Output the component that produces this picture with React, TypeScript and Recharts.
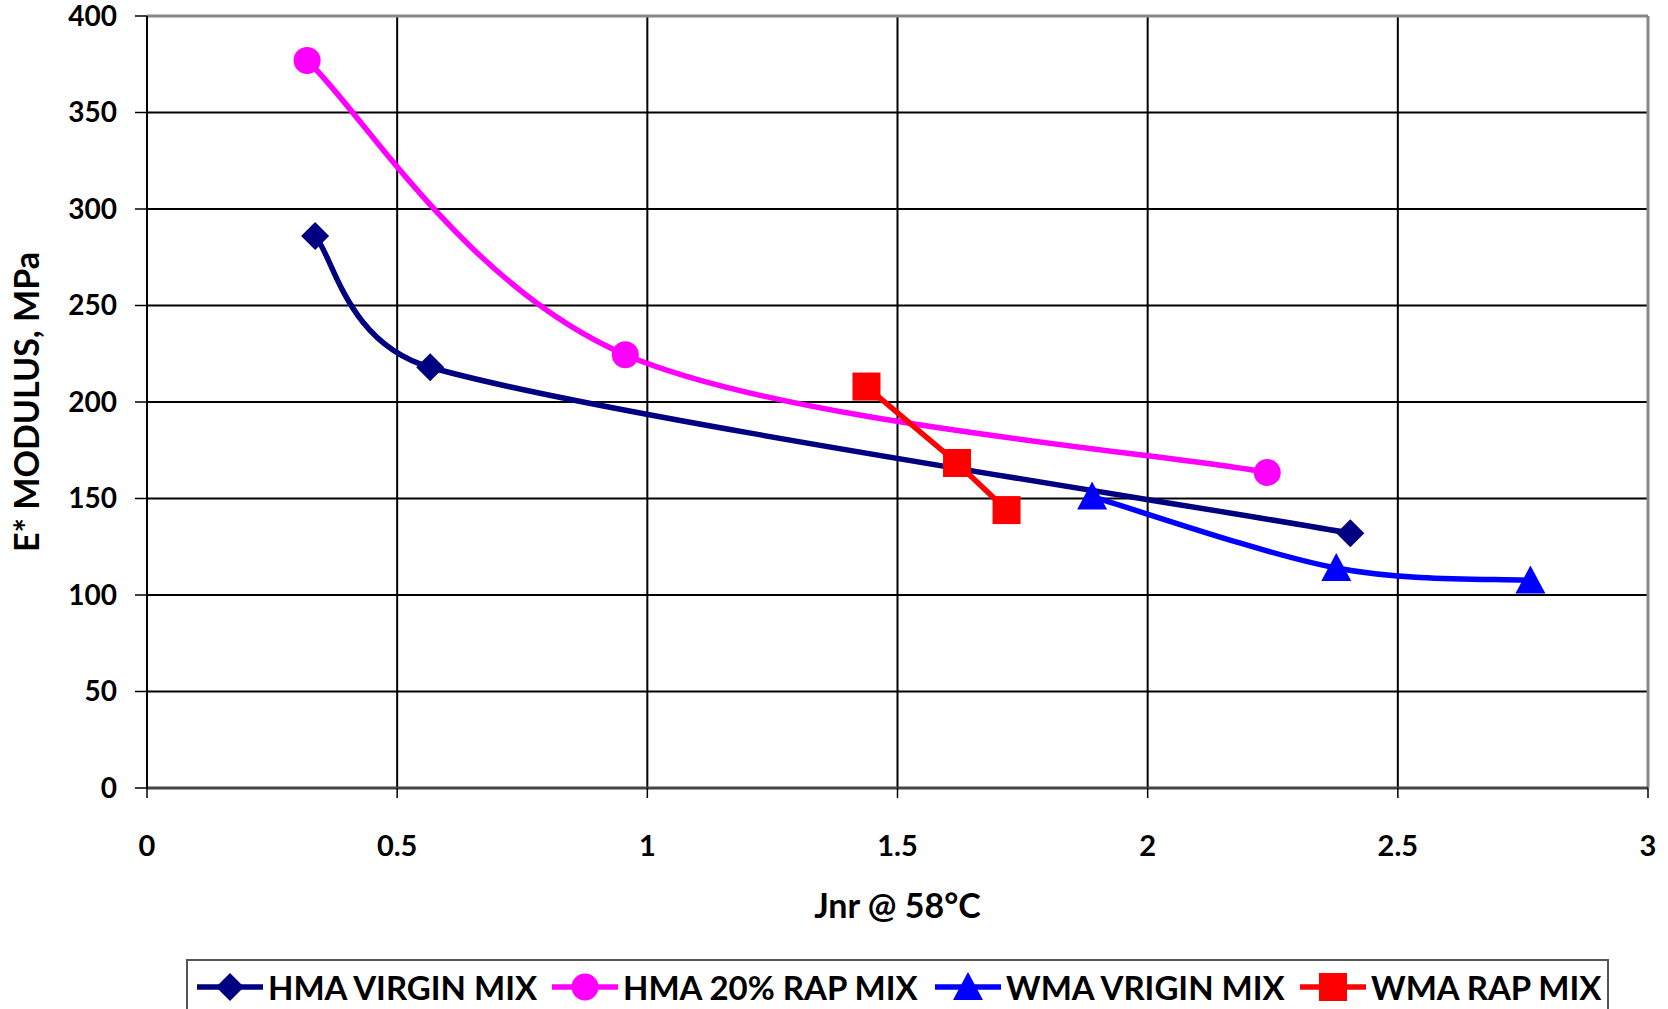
import React from 'react';
import { LineChart, Line, XAxis, YAxis, CartesianGrid, Legend, ReferenceLine } from 'recharts';

const seriesNames = ['HMA VIRGIN MIX', 'HMA 20% RAP MIX', 'WMA VRIGIN MIX', 'WMA RAP MIX'];
const seriesColors = ['#000080', '#FF00FF', '#0000FF', '#FF0000'];
const seriesShapes = ['diamond', 'circle', 'triangle', 'square'];

const hmaVirginX = [0.336, 0.566, 2.405];
const hmaVirginY = [286, 218, 132];
const hmaRapX = [0.32, 0.956, 2.239];
const hmaRapY = [377, 224.5, 163.5];
const wmaVirginX = [1.889, 2.377, 2.765];
const wmaVirginY = [151, 114, 107.5];
const wmaRapX = [1.438, 1.619, 1.718];
const wmaRapY = [208, 168.4, 144];

const xTicks = [0, 0.5, 1, 1.5, 2, 2.5, 3];
const yTicks = [0, 50, 100, 150, 200, 250, 300, 350, 400];
const xTitle = 'Jnr @ 58°C';
const yTitle = 'E* MODULUS, MPa';

const toPoints = (xs: number[], ys: number[]) => xs.map((x, i) => ({ x, y: ys[i] }));
const seriesData = [
  toPoints(hmaVirginX, hmaVirginY),
  toPoints(hmaRapX, hmaRapY),
  toPoints(wmaVirginX, wmaVirginY),
  toPoints(wmaRapX, wmaRapY),
];

// Spreadsheet-style smoothed line: Catmull-Rom tangents (1/6), capped at half of the adjacent chord.
function smoothCurve(context: any) {
  let pts: [number, number][] = [];
  return {
    areaStart() {},
    areaEnd() {},
    lineStart() {
      pts = [];
    },
    point(x: number, y: number) {
      pts.push([+x, +y]);
    },
    lineEnd() {
      const n = pts.length;
      if (!n) return;
      context.moveTo(pts[0][0], pts[0][1]);
      if (n === 1) return;
      const tangent = (i: number) => {
        const a = pts[Math.max(i - 1, 0)];
        const b = pts[Math.min(i + 1, n - 1)];
        return [(b[0] - a[0]) / 6, (b[1] - a[1]) / 6];
      };
      const cap = (t: number[], chord: number) => {
        const len = Math.hypot(t[0], t[1]);
        const lim = chord / 2;
        if (len > lim && len > 0) return [(t[0] * lim) / len, (t[1] * lim) / len];
        return t;
      };
      for (let i = 0; i < n - 1; i++) {
        const p1 = pts[i];
        const p2 = pts[i + 1];
        const chord = Math.hypot(p2[0] - p1[0], p2[1] - p1[1]);
        const t1 = cap(tangent(i), chord);
        const t2 = cap(tangent(i + 1), chord);
        context.bezierCurveTo(p1[0] + t1[0], p1[1] + t1[1], p2[0] - t2[0], p2[1] - t2[1], p2[0], p2[1]);
      }
    },
  };
}

const seriesCurve: any[] = [smoothCurve, smoothCurve, smoothCurve, 'linear'];

const FONT = 'Lato, "Open Sans", sans-serif';

function Marker({ shape, cx, cy, color }: { shape: string; cx: number; cy: number; color: string }) {
  if (shape === 'diamond') {
    return <polygon points={`${cx},${cy - 14} ${cx + 14},${cy} ${cx},${cy + 14} ${cx - 14},${cy}`} fill={color} />;
  }
  if (shape === 'circle') {
    return <circle cx={cx} cy={cy} r={13.5} fill={color} />;
  }
  if (shape === 'triangle') {
    return <polygon points={`${cx},${cy - 15} ${cx + 15},${cy + 13} ${cx - 15},${cy + 13}`} fill={color} />;
  }
  return <rect x={cx - 14} y={cy - 14} width={28} height={28} fill={color} />;
}

const legendItemLeft = [9, 364, 747, 1112];

function LegendContent() {
  return (
    <div
      style={{
        position: 'relative',
        height: 52,
        fontFamily: FONT,
        fontWeight: 700,
        fontSize: 33,
        color: '#000',
        whiteSpace: 'nowrap',
      }}
    >
      {seriesNames.map((name, i) => (
        <div
          key={name}
          style={{
            position: 'absolute',
            left: legendItemLeft[i],
            top: 0,
            height: 52,
            display: 'flex',
            alignItems: 'center',
            gap: 5,
          }}
        >
          <svg width={66} height={32}>
            <line x1={0} y1={16} x2={66} y2={16} stroke={seriesColors[i]} strokeWidth={5.5} />
            <Marker shape={seriesShapes[i]} cx={33} cy={16} color={seriesColors[i]} />
          </svg>
          <span>{name}</span>
        </div>
      ))}
    </div>
  );
}

export default function App() {
  return (
    <div style={{ position: 'absolute', left: 0, top: 0, width: 1668, height: 1009, overflow: 'hidden', background: '#fff' }}>
      <LineChart width={1668} height={1009} margin={{ top: 16, right: 20, left: 0, bottom: 0 }}>
        <CartesianGrid stroke="#000" strokeWidth={2} vertical horizontal />
        <XAxis
          type="number"
          dataKey="x"
          domain={[0, 3]}
          ticks={xTicks}
          interval={0}
          height={221}
          tickSize={10}
          tickMargin={37}
          axisLine={{ stroke: '#444', strokeWidth: 3 }}
          tickLine={{ stroke: '#000', strokeWidth: 1.5 }}
          tick={{ fill: '#000', fontSize: 29, fontWeight: 700, fontFamily: FONT }}
          label={{
            value: xTitle,
            position: 'insideTop',
            offset: 106,
            style: { fill: '#000', fontSize: 34, fontWeight: 700, fontFamily: FONT },
          }}
          allowDuplicatedCategory={false}
        />
        <YAxis
          type="number"
          dataKey="y"
          domain={[0, 400]}
          ticks={yTicks}
          interval={0}
          width={147}
          tickSize={12}
          tickMargin={18}
          axisLine={{ stroke: '#000', strokeWidth: 2 }}
          tickLine={{ stroke: '#000', strokeWidth: 1.5 }}
          tick={{ fill: '#000', fontSize: 28, fontWeight: 700, fontFamily: FONT }}
          label={{
            value: yTitle,
            angle: -90,
            position: 'insideLeft',
            offset: 27,
            style: { fill: '#000', fontSize: 34, fontWeight: 700, fontFamily: FONT, textAnchor: 'middle' },
          }}
        />
        <ReferenceLine y={400} stroke="#888" strokeWidth={3} />
        <ReferenceLine x={3} stroke="#888" strokeWidth={3} />
        {seriesData.map((data, i) => (
          <Line
            key={seriesNames[i]}
            name={seriesNames[i]}
            data={data}
            dataKey="y"
            type={seriesCurve[i]}
            stroke={seriesColors[i]}
            strokeWidth={5.5}
            isAnimationActive={false}
            dot={(p: any) => (
              <Marker key={`m-${i}-${p.index}`} shape={seriesShapes[i]} cx={p.cx} cy={p.cy} color={seriesColors[i]} />
            )}
            activeDot={false}
          />
        ))}
        <Legend
          layout="horizontal"
          verticalAlign="middle"
          align="center"
          wrapperStyle={{
            position: 'absolute',
            left: 186,
            top: 959,
            width: 1423,
            height: 70,
            border: '2px solid #555',
            boxSizing: 'border-box',
            background: '#fff',
          }}
          content={() => <LegendContent />}
        />
      </LineChart>
    </div>
  );
}
